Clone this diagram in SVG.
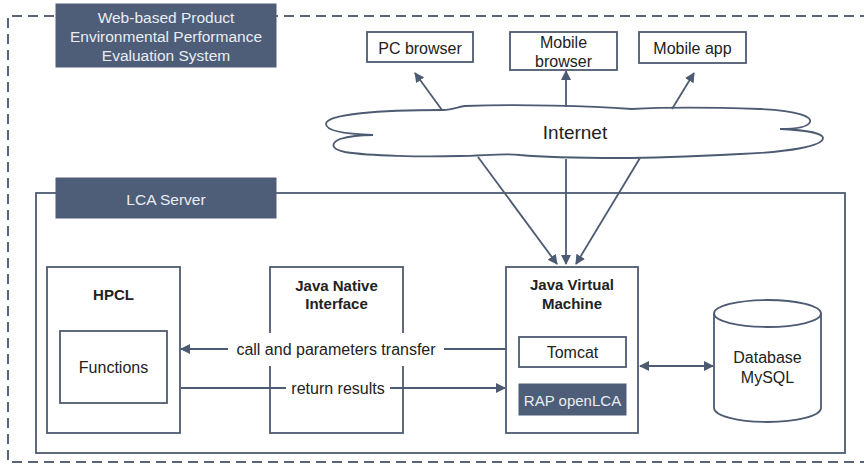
<svg xmlns="http://www.w3.org/2000/svg" width="864" height="465" viewBox="0 0 864 465">
<defs>
<style>
.ln{fill:none;stroke:#4d5b72;stroke-width:1.8}
.box{fill:#ffffff;stroke:#4d5b72;stroke-width:1.8}
.dark{fill:#4e5d78;stroke:#4e5d78}
.t{font-family:"Liberation Sans",Arial,sans-serif;font-size:16px;fill:#222;text-anchor:middle;dominant-baseline:central}
.tb{font-family:"Liberation Sans",Arial,sans-serif;font-size:15px;font-weight:bold;fill:#222;text-anchor:middle;dominant-baseline:central}
.tw{font-family:"Liberation Sans",Arial,sans-serif;font-size:15.5px;fill:#e9edf3;text-anchor:middle;dominant-baseline:central}
</style>
<marker id="ah" viewBox="0 0 10 10" refX="9" refY="5" markerWidth="10" markerHeight="10" markerUnits="userSpaceOnUse" orient="auto-start-reverse">
<path d="M0,0 L10,5 L0,10 z" fill="#4d5b72"/>
</marker>
</defs>
<rect width="864" height="465" fill="#ffffff"/>

<g id="outer">
<path d="M 870 16 H 8 V 462 H 870" fill="none" stroke="#5a6478" stroke-width="2" stroke-dasharray="10 6"/>
</g>
<g id="title">
<rect class="dark" x="56" y="4" width="220" height="63"/>
<text class="tw" x="166" y="17">Web-based Product</text>
<text class="tw" x="166" y="36">Environmental Performance</text>
<text class="tw" x="166" y="55">Evaluation System</text>
</g>

<g id="lca-server">
<rect class="box" x="36" y="193" width="809" height="260"/>
<rect class="dark" x="56" y="178" width="220" height="40"/>
<text class="tw" x="166" y="199">LCA Server</text>
</g>

<g id="pc-browser">
<rect class="box" x="367" y="32" width="106" height="30"/>
<text class="t" x="420" y="48">PC browser</text>
</g>
<g id="mobile-browser">
<rect class="box" x="510" y="32" width="107" height="38"/>
<text class="t" x="563.5" y="42">Mobile</text>
<text class="t" x="563.5" y="61">browser</text>
</g>
<g id="mobile-app">
<rect class="box" x="639" y="32" width="107" height="31"/>
<text class="t" x="692.5" y="48">Mobile app</text>
</g>

<g id="internet">
<path class="box" d="M 373 135 C 345 134, 326 131, 326 124 C 326 114, 380 110, 443 110 C 452 110, 458 107, 465 106 C 520 104, 590 106, 632 109 C 670 107, 730 108, 760 109 C 800 111, 812 117, 810 122 C 808 127, 795 129, 780 129 C 805 130, 823 133, 823 138 C 823 146, 790 152, 740 154 C 700 156, 660 158, 620 158 C 580 158, 540 157, 520 155 C 505 153, 480 156, 460 156 C 420 157, 370 156, 345 152 C 330 149, 331 143, 340 139 C 350 136, 360 135, 373 135 Z"/>
<text class="t" x="575" y="132" style="font-size:19px">Internet</text>
</g>

<g id="hpcl">
<rect class="box" x="47" y="267" width="133" height="166"/>
<text class="tb" x="113.5" y="294">HPCL</text>
<rect class="box" x="60" y="331" width="107" height="72"/>
<text class="t" x="113.5" y="367">Functions</text>
</g>

<g id="jni">
<rect class="box" x="270" y="267" width="133" height="166"/>
<text class="tb" x="336.5" y="285">Java Native</text>
<text class="tb" x="336.5" y="303">Interface</text>
</g>

<g id="jvm">
<rect class="box" x="506" y="267" width="132" height="166"/>
<text class="tb" x="572" y="284">Java Virtual</text>
<text class="tb" x="572" y="303">Machine</text>
<rect class="box" x="519" y="337" width="107" height="30"/>
<text class="t" x="572.5" y="352">Tomcat</text>
<rect class="dark" x="519" y="384" width="107" height="31"/>
<text class="tw" x="572.5" y="400" style="font-size:15px">RAP openLCA</text>
</g>

<g id="database">
<path class="box" d="M 714 313 V 408 A 53.5 14 0 0 0 821 408 V 313"/>
<ellipse class="box" cx="767.5" cy="313.5" rx="53.5" ry="13.5"/>
<text class="t" x="767.5" y="357">Database</text>
<text class="t" x="767.5" y="377">MySQL</text>
</g>

<g id="connectors">
<line class="ln" x1="442" y1="110" x2="415" y2="73" marker-end="url(#ah)"/>
<line class="ln" x1="566" y1="107" x2="566" y2="71" marker-end="url(#ah)"/>
<line class="ln" x1="672" y1="109" x2="694" y2="73" marker-end="url(#ah)"/>
<line class="ln" x1="478" y1="157" x2="557" y2="264" marker-end="url(#ah)"/>
<line class="ln" x1="566" y1="159" x2="566" y2="264" marker-end="url(#ah)"/>
<line class="ln" x1="640" y1="158" x2="576" y2="264" marker-end="url(#ah)"/>
<line class="ln" x1="506" y1="349" x2="181" y2="349" marker-end="url(#ah)"/>
<line class="ln" x1="181" y1="388" x2="505" y2="388" marker-end="url(#ah)"/>
<line class="ln" x1="640" y1="366" x2="713" y2="366" marker-start="url(#ah)" marker-end="url(#ah)"/>
<rect x="228" y="333" width="216" height="33" fill="#ffffff"/>
<text class="t" x="336" y="349">call and parameters transfer</text>
<rect x="286" y="379" width="104" height="18" fill="#ffffff"/>
<text class="t" x="338" y="388">return results</text>
</g>
</svg>
